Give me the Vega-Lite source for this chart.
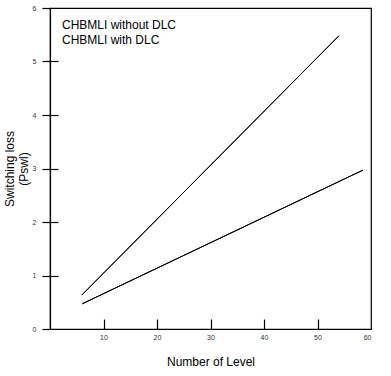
{
  "$schema": "https://vega.github.io/schema/vega-lite/v6.json",
  "width": 321,
  "height": 321,
  "autosize": "none",
  "padding": {"left": 50, "top": 8, "right": 20, "bottom": 47},
  "background": "white",
  "config": {
    "view": {"stroke": "black", "strokeWidth": 1.2},
    "font": "Liberation Sans"
  },
  "data": {
    "values": [
      {"series": "CHBMLI without DLC", "level": 6, "loss": 0.64},
      {"series": "CHBMLI without DLC", "level": 54, "loss": 5.48},
      {"series": "CHBMLI with DLC", "level": 6, "loss": 0.47},
      {"series": "CHBMLI with DLC", "level": 58.5, "loss": 2.97}
    ]
  },
  "resolve": {"axis": {"x": "independent", "y": "independent"}},
  "layer": [
    {
      "mark": {"type": "line", "strokeWidth": 1},
      "encoding": {
        "x": {
          "field": "level", "type": "quantitative",
          "scale": {"domain": [0, 60], "nice": false},
          "axis": {
            "title": "Number of Level", "titleFontSize": 12, "titleFontWeight": "normal", "titleColor": "black", "titlePadding": 16,
            "values": [10, 20, 30, 40, 50, 60], "grid": false,
            "domainColor": "black", "domainWidth": 1.2,
            "ticks": false,
            "labelFontSize": 7, "labelColor": "#333", "labelPadding": 4
          }
        },
        "y": {
          "field": "loss", "type": "quantitative",
          "scale": {"domain": [0, 6], "nice": false},
          "axis": {
            "title": ["Switching loss", "(Pswl)"], "titleFontSize": 12, "titleFontWeight": "normal", "titleColor": "black", "titlePadding": 2,
            "values": [0, 1, 2, 3, 4, 5, 6], "grid": false,
            "domainColor": "black", "domainWidth": 1.2,
            "tickColor": "black", "tickSize": 8, "tickWidth": 1.2,
            "labelFontSize": 7, "labelColor": "#333", "labelPadding": 6
          }
        },
        "color": {
          "field": "series", "type": "nominal",
          "sort": ["CHBMLI without DLC", "CHBMLI with DLC"],
          "scale": {"range": ["black", "black"]},
          "legend": {
            "title": null, "orient": "none", "legendX": 0, "legendY": 11,
            "symbolSize": 0, "symbolStrokeWidth": 0, "symbolOpacity": 0,
            "labelFontSize": 12, "labelColor": "black", "labelOffset": 0,
            "rowPadding": 3
          }
        }
      }
    },
    {
      "mark": {"type": "line", "strokeWidth": 1, "color": "black"},
      "encoding": {
        "x": {
          "field": "level", "type": "quantitative",
          "scale": {"domain": [0, 60], "nice": false},
          "axis": {
            "orient": "top", "offset": -321, "title": null, "labels": false, "domain": false, "grid": false,
            "values": [10, 20, 30, 40, 50], "tickColor": "black", "tickSize": 10, "tickWidth": 1.2
          }
        },
        "y": {
          "field": "loss", "type": "quantitative",
          "scale": {"domain": [0, 6], "nice": false},
          "axis": {
            "orient": "right", "offset": -321, "title": null, "labels": false, "domain": false, "grid": false,
            "values": [1, 2, 3, 4, 5], "tickColor": "black", "tickSize": 8, "tickWidth": 1.2
          }
        },
        "detail": {"field": "series", "type": "nominal"}
      }
    }
  ]
}
